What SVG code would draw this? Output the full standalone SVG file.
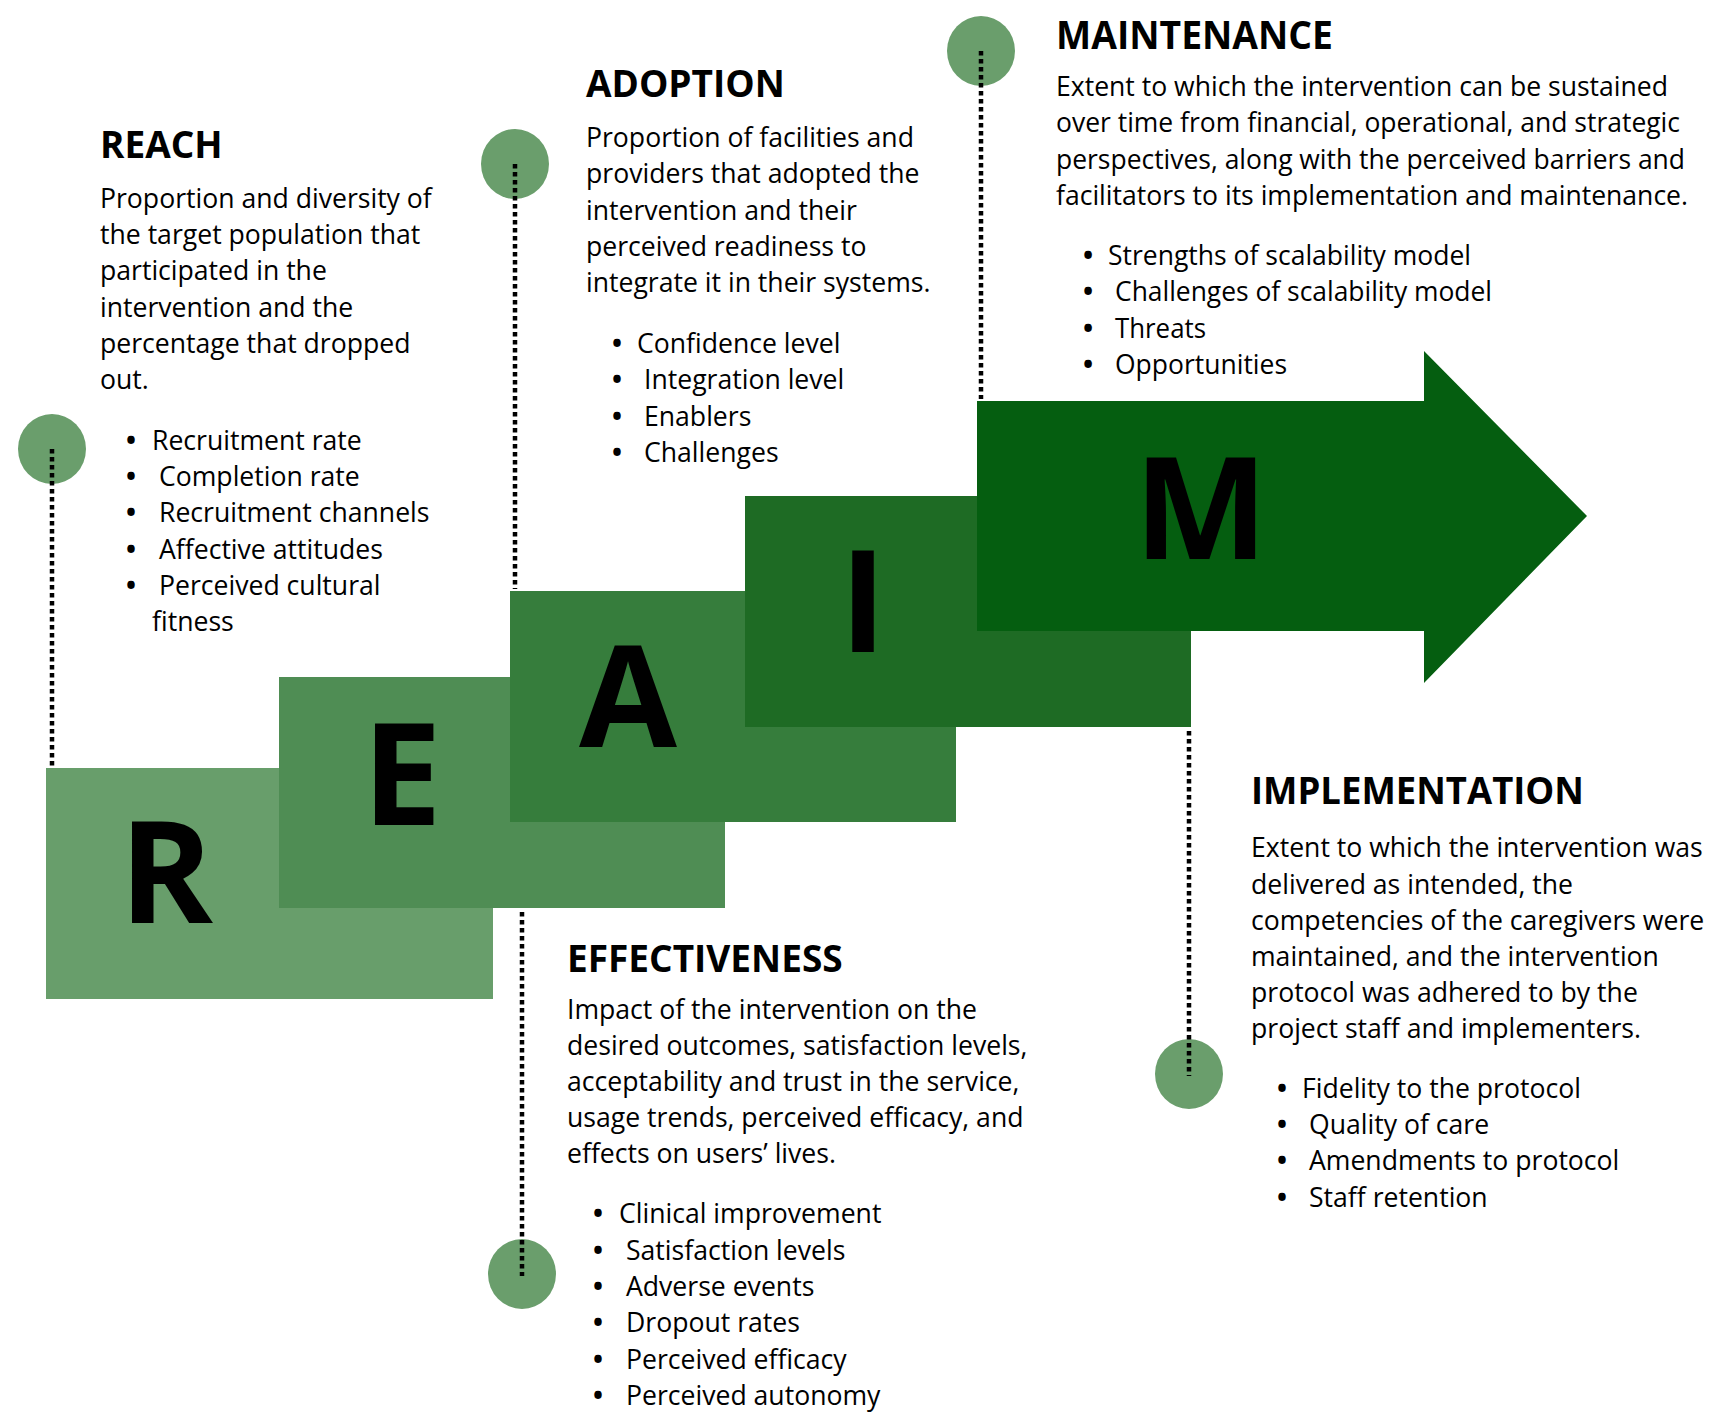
<svg xmlns="http://www.w3.org/2000/svg" width="1713" height="1419" viewBox="0 0 1713 1419">
<style>
.t{font-family:"Open Sans","Noto Sans",sans-serif;font-size:37px;font-weight:700;fill:#000}
.b{font-family:"Open Sans","Noto Sans",sans-serif;font-size:26.6px;fill:#000}
.c{font-family:"Open Sans","Noto Sans",sans-serif;font-size:27px;fill:#000}
.u{font-weight:700}
.big{font-family:"Open Sans","Noto Sans",sans-serif;font-size:142px;font-weight:700;fill:#000;text-anchor:middle}
.dot{fill:#6a9e6c}
.con{stroke:#000;stroke-width:4.5;stroke-dasharray:4.5 3.5;fill:none}
</style>
<rect width="1713" height="1419" fill="#fff"/>
<g id="reach">
<rect x="46" y="768" width="447" height="231" fill="#689e6b"/>
<text class="big" x="166" y="923">R</text>
<ellipse class="dot" cx="52" cy="449" rx="34" ry="35"/>
<text class="t" x="100" y="158">REACH</text>
<text class="b"><tspan x="100" y="208">Proportion and diversity of</tspan><tspan x="100" y="244">the target population that</tspan><tspan x="100" y="280">participated in the</tspan><tspan x="100" y="317">intervention and the</tspan><tspan x="100" y="353">percentage that dropped</tspan><tspan x="100" y="389">out.</tspan></text>
<text class="b"><tspan class="u" x="126" y="450">•</tspan><tspan x="152" y="450">Recruitment rate</tspan><tspan class="u" x="126" y="486">•</tspan><tspan x="159" y="486">Completion rate</tspan><tspan class="u" x="126" y="522">•</tspan><tspan x="159" y="522">Recruitment channels</tspan><tspan class="u" x="126" y="559">•</tspan><tspan x="159" y="559">Affective attitudes</tspan><tspan class="u" x="126" y="595">•</tspan><tspan x="159" y="595">Perceived cultural</tspan><tspan x="152" y="631">fitness</tspan></text>
</g>
<g id="effectiveness">
<rect x="279" y="677" width="446" height="231" fill="#4f8d54"/>
<text class="big" x="402" y="825">E</text>
<ellipse class="dot" cx="522" cy="1274" rx="34" ry="35"/>
<text class="t" x="567" y="972">EFFECTIVENESS</text>
<text class="b"><tspan x="567" y="1019">Impact of the intervention on the</tspan><tspan x="567" y="1055">desired outcomes, satisfaction levels,</tspan><tspan x="567" y="1091">acceptability and trust in the service,</tspan><tspan x="567" y="1127">usage trends, perceived efficacy, and</tspan><tspan x="567" y="1163">effects on users’ lives.</tspan></text>
<text class="b"><tspan class="u" x="593" y="1223">•</tspan><tspan x="619" y="1223">Clinical improvement</tspan><tspan class="u" x="593" y="1260">•</tspan><tspan x="626" y="1260">Satisfaction levels</tspan><tspan class="u" x="593" y="1296">•</tspan><tspan x="626" y="1296">Adverse events</tspan><tspan class="u" x="593" y="1332">•</tspan><tspan x="626" y="1332">Dropout rates</tspan><tspan class="u" x="593" y="1369">•</tspan><tspan x="626" y="1369">Perceived efficacy</tspan><tspan class="u" x="593" y="1405">•</tspan><tspan x="626" y="1405">Perceived autonomy</tspan></text>
</g>
<g id="adoption">
<rect x="510" y="591" width="446" height="231" fill="#367d3c"/>
<text class="big" x="628" y="747">A</text>
<ellipse class="dot" cx="515" cy="164" rx="34" ry="35"/>
<text class="t" x="586" y="97">ADOPTION</text>
<text class="b"><tspan x="586" y="147">Proportion of facilities and</tspan><tspan x="586" y="183">providers that adopted the</tspan><tspan x="586" y="220">intervention and their</tspan><tspan x="586" y="256">perceived readiness to</tspan><tspan x="586" y="292">integrate it in their systems.</tspan></text>
<text class="b"><tspan class="u" x="612" y="353">•</tspan><tspan x="637" y="353">Confidence level</tspan><tspan class="u" x="612" y="389">•</tspan><tspan x="644" y="389">Integration level</tspan><tspan class="u" x="612" y="426">•</tspan><tspan x="644" y="426">Enablers</tspan><tspan class="u" x="612" y="462">•</tspan><tspan x="644" y="462">Challenges</tspan></text>
</g>
<g id="implementation">
<rect x="745" y="496" width="446" height="231" fill="#1e6b24"/>
<text class="big" x="863" y="652">I</text>
<ellipse class="dot" cx="1189" cy="1074" rx="34" ry="35"/>
<text class="t" x="1251" y="804" textLength="333" lengthAdjust="spacingAndGlyphs">IMPLEMENTATION</text>
<text class="b"><tspan x="1251" y="857">Extent to which the intervention was</tspan><tspan x="1251" y="894">delivered as intended, the</tspan><tspan x="1251" y="930">competencies of the caregivers were</tspan><tspan x="1251" y="966">maintained, and the intervention</tspan><tspan x="1251" y="1002">protocol was adhered to by the</tspan><tspan x="1251" y="1038">project staff and implementers.</tspan></text>
<text class="b"><tspan class="u" x="1277" y="1098">•</tspan><tspan x="1302" y="1098">Fidelity to the protocol</tspan><tspan class="u" x="1277" y="1134">•</tspan><tspan x="1309" y="1134">Quality of care</tspan><tspan class="u" x="1277" y="1170">•</tspan><tspan x="1309" y="1170">Amendments to protocol</tspan><tspan class="u" x="1277" y="1207">•</tspan><tspan x="1309" y="1207">Staff retention</tspan></text>
</g>
<g id="maintenance">
<path d="M977 401 H1424 V351 L1587 516 L1424 683 V631 H977 Z" fill="#055e10"/>
<text class="big" x="1201" y="559">M</text>
<ellipse class="dot" cx="981" cy="51" rx="34" ry="35"/>
<text class="t" x="1056" y="49" textLength="277" lengthAdjust="spacingAndGlyphs" style="font-size:40px">MAINTENANCE</text>
<text class="c"><tspan x="1056" y="96" textLength="612" lengthAdjust="spacingAndGlyphs">Extent to which the intervention can be sustained</tspan><tspan x="1056" y="132" textLength="624" lengthAdjust="spacingAndGlyphs">over time from financial, operational, and strategic</tspan><tspan x="1056" y="169" textLength="629" lengthAdjust="spacingAndGlyphs">perspectives, along with the perceived barriers and</tspan><tspan x="1056" y="205" textLength="632" lengthAdjust="spacingAndGlyphs">facilitators to its implementation and maintenance.</tspan></text>
<text class="c"><tspan class="u" x="1083" y="265">•</tspan><tspan x="1108" y="265" textLength="363" lengthAdjust="spacingAndGlyphs">Strengths of scalability model</tspan><tspan class="u" x="1083" y="301">•</tspan><tspan x="1115" y="301" textLength="377" lengthAdjust="spacingAndGlyphs">Challenges of scalability model</tspan><tspan class="u" x="1083" y="338">•</tspan><tspan x="1115" y="338" textLength="91" lengthAdjust="spacingAndGlyphs">Threats</tspan><tspan class="u" x="1083" y="374">•</tspan><tspan x="1115" y="374" textLength="172" lengthAdjust="spacingAndGlyphs">Opportunities</tspan></text>
</g>
<g id="connectors">
<line class="con" x1="52" y1="449" x2="52" y2="766"/>
<line class="con" x1="515" y1="164" x2="515" y2="589"/>
<line class="con" x1="981" y1="51" x2="981" y2="399"/>
<line class="con" x1="1189" y1="731" x2="1189" y2="1076"/>
<line class="con" x1="522" y1="912" x2="522" y2="1276"/>
</g>
</svg>
